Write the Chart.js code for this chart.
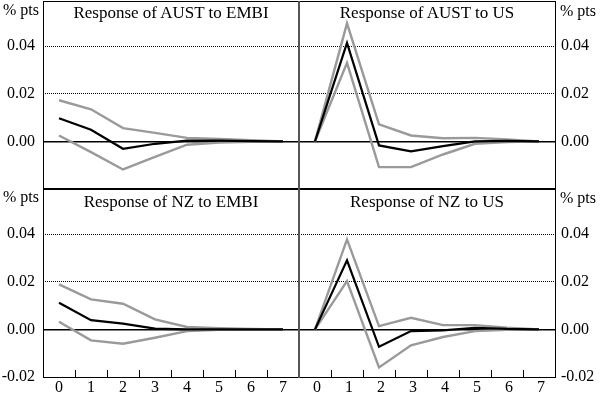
<!DOCTYPE html>
<html>
<head>
<meta charset="utf-8">
<script src="https://cdn.jsdelivr.net/npm/chart.js@4.4.1/dist/chart.umd.min.js"></script>
<style>
  html, body { margin:0; padding:0; background:#fff; }
  #wrap { position:relative; width:600px; height:395px; overflow:hidden; font-family:"Liberation Serif", "Times New Roman", serif; color:#000; }
  canvas { position:absolute; }
  .ln { position:absolute; background:#000; }
  .title { position:absolute; width:256px; text-align:center; font-size:17px; line-height:20px; white-space:nowrap; }
  .unit { position:absolute; font-size:16px; line-height:20px; white-space:nowrap; }
</style>
</head>
<body>
<div id="wrap">
  <canvas id="c1" width="299" height="189" style="left:0;top:0;width:299px;height:189px"></canvas>
  <canvas id="c2" width="301" height="189" style="left:299px;top:0;width:301px;height:189px"></canvas>
  <canvas id="c3" width="299" height="206" style="left:0;top:189px;width:299px;height:206px"></canvas>
  <canvas id="c4" width="301" height="206" style="left:299px;top:189px;width:301px;height:206px"></canvas>

  <div class="ln" style="left:43px;top:1px;width:513px;height:1px"></div>
  <div class="ln" style="left:43px;top:1px;width:1px;height:377px"></div>
  <div class="ln" style="left:555px;top:1px;width:1px;height:377px"></div>
  <div class="ln" style="left:43px;top:377px;width:513px;height:1px"></div>
  <div class="ln" style="left:43px;top:188px;width:513px;height:2px"></div>
  <div class="ln" style="left:298px;top:1px;width:2px;height:377px;background:#555"></div>

  <div class="title" style="left:43px;top:3px">Response of AUST to EMBI</div>
  <div class="title" style="left:299px;top:3px">Response of AUST to US</div>
  <div class="title" style="left:43px;top:192px">Response of NZ to EMBI</div>
  <div class="title" style="left:299px;top:192px">Response of NZ to US</div>

  <div class="unit" style="left:3px;top:0px">% pts</div>
  <div class="unit" style="left:3px;top:187px">% pts</div>
  <div class="unit" style="left:560px;top:1px">% pts</div>
  <div class="unit" style="left:560px;top:188px">% pts</div>
</div>
<script>
// ---- data ----
const categories = ["0", "1", "2", "3", "4", "5", "6", "7"];

const austEmbiUpper = [0.0173, 0.0135, 0.0056, 0.0036, 0.0015, 0.0010, 0.0005, 0.0000];
const austEmbiMean  = [0.0097, 0.0049, -0.0031, -0.0010, 0.0003, 0.0003, 0.0001, 0.0000];
const austEmbiLower = [0.0025, -0.0045, -0.0118, -0.0065, -0.0014, -0.0005, -0.0002, 0.0000];

const austUsUpper = [0.0000, 0.0496, 0.0072, 0.0025, 0.0013, 0.0015, 0.0008, 0.0000];
const austUsMean  = [0.0000, 0.0414, -0.0017, -0.0042, -0.0020, 0.0000, 0.0002, 0.0000];
const austUsLower = [0.0000, 0.0330, -0.0108, -0.0108, -0.0055, -0.0010, -0.0003, 0.0000];

const nzEmbiUpper = [0.0189, 0.0126, 0.0108, 0.0042, 0.0010, 0.0005, 0.0002, 0.0000];
const nzEmbiMean  = [0.0112, 0.0039, 0.0024, 0.0003, 0.0000, 0.0000, 0.0000, 0.0000];
const nzEmbiLower = [0.0032, -0.0046, -0.0060, -0.0035, -0.0007, -0.0002, 0.0000, 0.0000];

const nzUsUpper = [0.0000, 0.0378, 0.0014, 0.0049, 0.0018, 0.0018, 0.0007, 0.0000];
const nzUsMean  = [0.0000, 0.0290, -0.0073, -0.0007, -0.0004, 0.0007, 0.0002, 0.0000];
const nzUsLower = [0.0000, 0.0203, -0.0160, -0.0067, -0.0032, -0.0007, -0.0002, 0.0000];

const topTicks = [0, 0.02, 0.04];
const bottomTicks = [-0.02, 0, 0.02, 0.04];
const yMin = -0.02;
const yMax = 0.059;

// ---- drawing ----
const FONT = { family: "'Liberation Serif', 'Times New Roman', serif", size: 16 };
const GRAY = '#9a9a9a';

const innerTicks = {
  id: 'innerTicks',
  afterDraw(chart, args, opts) {
    if (!opts.show) return;
    const x = chart.scales.x, a = chart.chartArea, ctx = chart.ctx;
    ctx.save();
    ctx.strokeStyle = '#000';
    ctx.lineWidth = 1;
    for (let i = 1; i < categories.length; i++) {
      const px = Math.round((x.getPixelForTick(i - 1) + x.getPixelForTick(i)) / 2) + 0.5;
      ctx.beginPath();
      ctx.moveTo(px, a.bottom);
      ctx.lineTo(px, a.bottom - 7);
      ctx.stroke();
    }
    ctx.restore();
  }
};

function makeChart(id, upper, mean, lower, side, showX, tickVals) {
  const ds = (data, color, w) => ({
    data, borderColor: color, borderWidth: w, pointRadius: 0, pointHoverRadius: 0,
    tension: 0, fill: false
  });
  new Chart(document.getElementById(id), {
    type: 'line',
    data: {
      labels: categories,
      datasets: [ds(mean, '#000', 2.2), ds(upper, GRAY, 2.4), ds(lower, GRAY, 2.4)]
    },
    plugins: [innerTicks],
    options: {
      responsive: false,
      animation: false,
      events: [],
      layout: { padding: { top: showX ? 0 : 1, left: 0, right: 0, bottom: 0 } },
      plugins: { legend: { display: false }, tooltip: { enabled: false }, title: { display: false }, innerTicks: { show: showX } },
      scales: {
        x: {
          type: 'category',
          offset: true,
          display: showX,
          grid: { display: false, drawTicks: false, tickLength: 0 },
          border: { display: false },
          ticks: { color: '#000', font: FONT, padding: 1, maxRotation: 0, autoSkip: false, labelOffset: side === 'right' ? 2 : 0 },
          afterFit: s => { if (showX) { s.height = 18; } s.paddingLeft = 0; s.paddingRight = 0; }
        },
        y: {
          position: side,
          min: yMin,
          max: yMax,
          afterBuildTicks: s => { s.ticks = tickVals.map(v => ({ value: v })); },
          afterFit: s => { s.width = side === 'left' ? 43 : 45; s.paddingTop = 0; s.paddingBottom = 0; },
          grid: {
            color: '#000',
            drawTicks: false,
            lineWidth: c => (c.tick && c.tick.value === 0) ? 1.5 : 1
          },
          border: { display: false, dash: c => (c.tick && c.tick.value === 0) ? [] : [1, 1] },
          ticks: { color: '#000', font: FONT, padding: side === 'left' ? 8 : 6, callback: v => Number(v).toFixed(2) }
        }
      }
    }
  });
}

makeChart('c1', austEmbiUpper, austEmbiMean, austEmbiLower, 'left', false, topTicks);
makeChart('c2', austUsUpper, austUsMean, austUsLower, 'right', false, topTicks);
makeChart('c3', nzEmbiUpper, nzEmbiMean, nzEmbiLower, 'left', true, bottomTicks);
makeChart('c4', nzUsUpper, nzUsMean, nzUsLower, 'right', true, bottomTicks);
</script>
</body>
</html>
